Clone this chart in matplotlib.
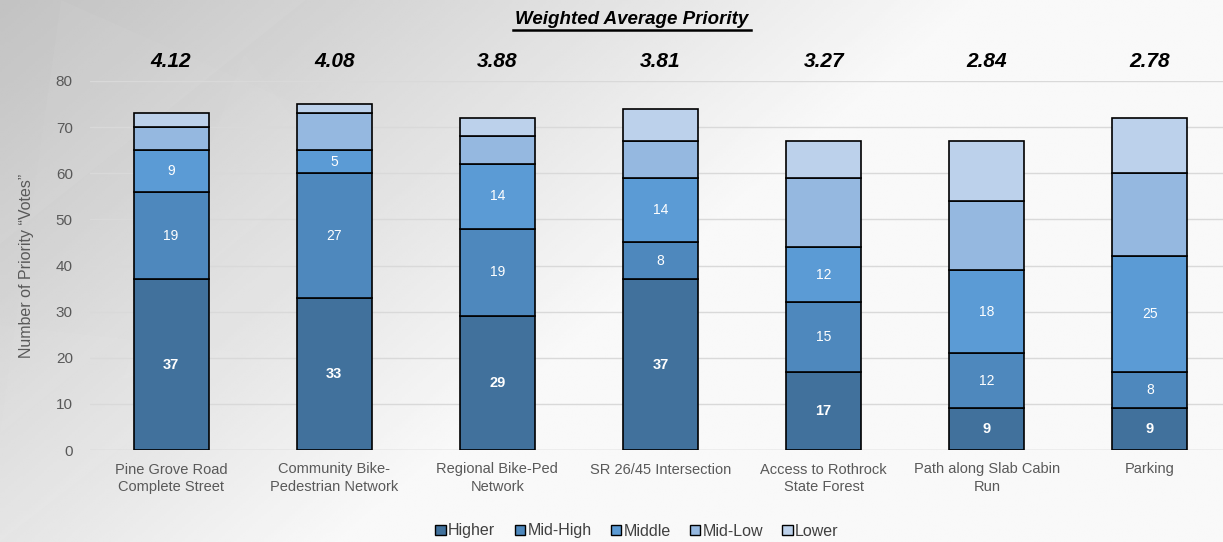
import numpy as np
import matplotlib
matplotlib.use("Agg")
import matplotlib.pyplot as plt
from matplotlib.patches import Polygon

plt.rcParams['font.family'] = ['Liberation Sans', 'DejaVu Sans']

categories = ["Pine Grove Road\nComplete Street", "Community Bike-\nPedestrian Network",
              "Regional Bike-Ped\nNetwork", "SR 26/45 Intersection",
              "Access to Rothrock\nState Forest", "Path along Slab Cabin\nRun", "Parking"]
higher = [37, 33, 29, 37, 17, 9, 9]
mid_high = [19, 27, 19, 8, 15, 12, 8]
middle = [9, 5, 14, 14, 12, 18, 25]
mid_low = [5, 8, 6, 8, 15, 15, 18]
lower = [3, 2, 4, 7, 8, 13, 12]
weighted_avg = ["4.12", "4.08", "3.88", "3.81", "3.27", "2.84", "2.78"]
series_names = ["Higher", "Mid-High", "Middle", "Mid-Low", "Lower"]
colors = ["#41719c", "#4e88bd", "#5b9bd5", "#95b8e0", "#bcd1eb"]

W, H = 1223, 542
fig = plt.figure(figsize=(W / 100, H / 100), dpi=100)

# soft gray backdrop, darkest in the top-left corner
bg = fig.add_axes([0, 0, 1, 1], zorder=-10)
yy, xx = np.mgrid[0:1:200j, 0:1:400j]   # yy = 0 at the top row
shade = 0.75 + 0.225 * np.clip(xx * 1.25 + yy * 0.65, 0, 1)
bg.imshow(shade, cmap="gray", vmin=0, vmax=1, extent=[0, 1, 0, 1], aspect="auto", origin="upper")
for pts, a in [([(0, 0.55), (0.25, 1), (0, 1)], 0.05), ([(0, 0.2), (0.3, 0.75), (0.05, 1)], 0.04),
               ([(0.1, 0.3), (0.35, 0.45), (0.2, 0.9)], 0.035), ([(0.3, 0.6), (0.55, 1), (0.45, 0.7)], 0.03),
               ([(0.0, 0.0), (0.2, 0.35), (0.0, 0.4)], 0.04)]:
    bg.add_patch(Polygon(pts, closed=True, facecolor="white", alpha=a, edgecolor="none"))
bg.set_xlim(0, 1); bg.set_ylim(0, 1); bg.axis("off")

ax = fig.add_axes([89.5 / W, (H - 450) / H, 1142 / W, 369 / H])
ax.patch.set_alpha(0)
x = np.arange(len(categories))
width = 0.46
bottoms = np.zeros(len(categories))
series = [higher, mid_high, middle, mid_low, lower]
for vals, name, col in zip(series, series_names, colors):
    vals = np.array(vals)
    ax.bar(x, vals, width, bottom=bottoms, color=col, edgecolor="black",
           linewidth=1.2, label=name, zorder=3)
    if name in ("Higher", "Mid-High", "Middle"):
        for xi, b, v in zip(x, bottoms, vals):
            ax.text(xi, b + v / 2, str(v), ha="center", va="center", color="white",
                    fontsize=10.5 if name == "Higher" else 10,
                    fontweight="bold" if name == "Higher" else "normal", zorder=4)
    bottoms += vals

for xi, t in zip(x, weighted_avg):
    ax.text(xi, 84.2, t, ha="center", va="center", fontsize=15, fontweight="bold",
            fontstyle="italic", color="black", clip_on=False)

fig.text(632 / W, 1 - 19 / H, "Weighted Average Priority", ha="center", va="center",
         fontsize=13.5, fontweight="bold", fontstyle="italic")
fig.add_artist(plt.Line2D([513 / W, 751 / W], [1 - 30 / H, 1 - 30 / H], color="black", lw=1.8))

ax.set_xlim(-0.5, len(categories) - 0.5)
ax.set_ylim(0, 80)
ax.set_yticks(range(0, 81, 10))
ax.yaxis.grid(True, color="#d9d9d9", lw=1, zorder=0)
ax.set_axisbelow(True)
for s in ax.spines.values():
    s.set_visible(False)
ax.tick_params(axis="both", length=0, colors="#595959", labelsize=11)
ax.tick_params(axis="y", pad=12)
ax.tick_params(axis="x", pad=9)
ax.set_xticks(x)
ax.set_xticklabels(categories, fontsize=10.5, color="#595959", linespacing=1.3)
ax.set_ylabel("Number of Priority \u201cVotes\u201d", fontsize=11.5, color="#595959", labelpad=16)
ax.axhline(0, color="#d9d9d9", lw=1, zorder=1)

leg = fig.legend(loc="center", bbox_to_anchor=(637 / W, 1 - 531 / H), ncol=5, frameon=False,
                 fontsize=11.5, handlelength=0.65, handleheight=0.65, handletextpad=0.15,
                 columnspacing=1.2, labelcolor="#404040")
for h in leg.legend_handles:
    h.set_linewidth(1.0)

fig.savefig("out.png", dpi=100)
